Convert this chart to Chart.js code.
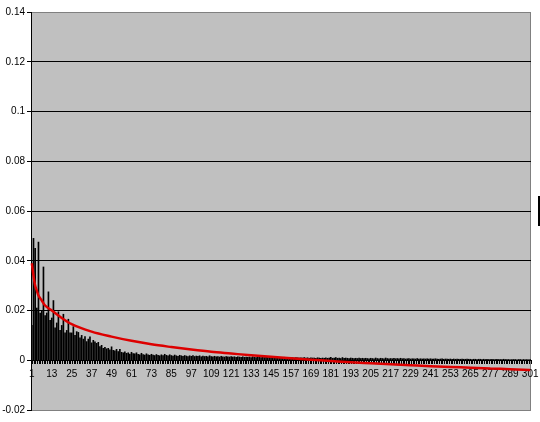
<!DOCTYPE html>
<html>
<head>
<meta charset="utf-8">
<script src="https://cdn.jsdelivr.net/npm/chart.js@4"></script>
<style>
  body { margin: 0; background: #fff; }
  #wrap { position: relative; width: 540px; height: 422px; }
  #legendEdge { position: absolute; left: 538px; top: 196px; width: 2px; height: 30px; background: #000; }
</style>
</head>
<body>
<div id="wrap">
  <canvas id="myChart" width="540" height="422"></canvas>
  <div id="legendEdge"></div>
</div>
<script>
// categories 1..301
const categories = Array.from({ length: 301 }, (_, i) => String(i + 1));

const xTickLabels = ['1', '13', '25', '37', '49', '61', '73', '85', '97', '109', '121', '133', '145',
  '157', '169', '181', '193', '205', '217', '229', '241', '253', '265', '277', '289', '301'];

const yTickValues = [0.14, 0.12, 0.1, 0.08, 0.06, 0.04, 0.02, 0, -0.02];

// bar heights
const barValues = [
  0.014, 0.049, 0.045, 0.021, 0.0475, 0.019, 0.020, 0.0375, 0.018, 0.019,
  0.0275, 0.016, 0.017, 0.024, 0.013, 0.015, 0.0195, 0.012, 0.014, 0.0185,
  0.011, 0.012, 0.0165, 0.011, 0.011, 0.0135, 0.010, 0.0115, 0.0112, 0.009,
  0.010, 0.0085, 0.0095, 0.0075, 0.0085, 0.0094, 0.007, 0.008, 0.0074, 0.0068,
  0.0072, 0.0055, 0.006, 0.0048, 0.0052, 0.0046, 0.0048, 0.0042, 0.0054, 0.004,
  0.0038, 0.0044, 0.0035, 0.0044, 0.0032, 0.003, 0.0034, 0.0028, 0.003, 0.0025,
  0.0032, 0.0027, 0.0026, 0.003, 0.0024, 0.0022, 0.0028, 0.0023, 0.0021, 0.0026,
  0.0022, 0.002, 0.0024, 0.0021, 0.0019, 0.0023, 0.002, 0.0018, 0.0022, 0.0019,
  0.0024, 0.002, 0.0018, 0.0022, 0.0019, 0.0017, 0.0021, 0.0018, 0.0016, 0.002,
  0.0018, 0.0016, 0.0019, 0.0017, 0.0015, 0.0018, 0.0016, 0.0019, 0.0015, 0.0017,
  0.0016, 0.0018, 0.0014, 0.0017, 0.0015, 0.0016, 0.0014, 0.0018, 0.0015, 0.0014,
  0.0016, 0.0014, 0.0015, 0.0013, 0.0016, 0.0014, 0.0013, 0.0015, 0.0014, 0.0013,
  0.0015, 0.0013, 0.0014, 0.0012, 0.0014, 0.0013, 0.0012, 0.0014, 0.0012, 0.0013,
  0.0012, 0.0013, 0.0011, 0.0014, 0.0012, 0.0011, 0.0013, 0.0012, 0.0011, 0.0012,
  0.0011, 0.0013, 0.0011, 0.0012, 0.001, 0.0012, 0.0011, 0.001, 0.0012, 0.001,
  0.0011, 0.001, 0.0012, 0.001, 0.0011, 0.0009, 0.0011, 0.001, 0.0009, 0.0011,
  0.001, 0.0009, 0.001, 0.0009, 0.0011, 0.0009, 0.001, 0.0008, 0.001, 0.0009,
  0.0009, 0.0008, 0.001, 0.0009, 0.0008, 0.0009, 0.0008, 0.001, 0.0008, 0.0009,
  0.0012, 0.0008, 0.0009, 0.0011, 0.0008, 0.0009, 0.0007, 0.0011, 0.0008, 0.0009,
  0.0008, 0.0007, 0.0009, 0.0008, 0.0007, 0.0008, 0.0007, 0.0009, 0.0007, 0.0008,
  0.0007, 0.0008, 0.0007, 0.0006, 0.0008, 0.0007, 0.0006, 0.0009, 0.0007, 0.0006,
  0.0008, 0.0007, 0.0006, 0.0009, 0.0007, 0.0006, 0.0007, 0.0006, 0.0008, 0.0006,
  0.0007, 0.0006, 0.0008, 0.0006, 0.0007, 0.0005, 0.0006, 0.0007, 0.0005, 0.0006,
  0.0006, 0.0005, 0.0007, 0.0005, 0.0006, 0.0005, 0.0006, 0.0005, 0.0006, 0.0005,
  0.0006, 0.0005, 0.0005, 0.0006, 0.0005, 0.0004, 0.0005, 0.0006, 0.0004, 0.0005,
  0.0005, 0.0004, 0.0005, 0.0004, 0.0005, 0.0004, 0.0005, 0.0004, 0.0004, 0.0005,
  0.0004, 0.0004, 0.0005, 0.0004, 0.0004, 0.0003, 0.0004, 0.0004, 0.0003, 0.0004,
  0.0004, 0.0003, 0.0004, 0.0003, 0.0004, 0.0003, 0.0003, 0.0004, 0.0003, 0.0003,
  0.0004, 0.0003, 0.0003, 0.0003, 0.0004, 0.0003, 0.0003, 0.0003, 0.0002, 0.0003,
  0.0003, 0.0003, 0.0002, 0.0003, 0.0003, 0.0002, 0.0003, 0.0002, 0.0003, 0.0002, 0.0003
];

// red trend line, read at a few categories
const trendCats = ['1', '2', '3', '4', '5', '7', '9', '13', '19', '25', '37', '49', '61', '73', '85', '97',
  '109', '121', '133', '145', '157', '169', '181', '193', '205', '217', '229', '241', '253', '265', '277', '289', '301'];
const trendValues = [0.039, 0.034, 0.030, 0.028, 0.026, 0.024, 0.022, 0.020, 0.017, 0.0145, 0.0115, 0.0095,
  0.0078, 0.0064, 0.0053, 0.0043, 0.0034, 0.0027, 0.0020, 0.0014, 0.0008, 0.0002, -0.0003, -0.0008,
  -0.0012, -0.0016, -0.0020, -0.0024, -0.0027, -0.0030, -0.0033, -0.0036, -0.0039];

const plotBg = {
  id: 'plotBg',
  beforeDraw(chart) {
    const { ctx, chartArea: a } = chart;
    ctx.save();
    ctx.fillStyle = '#c0c0c0';
    ctx.fillRect(a.left, a.top, a.right - a.left, a.bottom - a.top);
    ctx.strokeStyle = '#808080';
    ctx.lineWidth = 1;
    ctx.strokeRect(a.left + 0.5, a.top + 0.5, a.right - a.left - 1, a.bottom - a.top);
    ctx.restore();
  }
};

const ctx = document.getElementById('myChart');

new Chart(ctx, {
  type: 'bar',
  data: {
    labels: categories,
    datasets: [
      {
        type: 'line',
        data: trendCats.map((c, i) => ({ x: c, y: trendValues[i] })),
        borderColor: '#dd0000',
        borderWidth: 2.5,
        pointRadius: 0,
        cubicInterpolationMode: 'monotone',
        order: 0
      },
      {
        data: barValues,
        backgroundColor: '#000',
        barThickness: 1,
        order: 1
      }
    ]
  },
  options: {
    responsive: false,
    animation: false,
    layout: { padding: { top: 12, bottom: 12, right: 9, left: 0 } },
    plugins: { legend: { display: false }, tooltip: { enabled: false } },
    scales: {
      x: {
        position: { y: 0 },
        afterFit: (s) => { s.paddingLeft = 0; s.paddingRight = 0; },
        grid: { offset: true, drawOnChartArea: false, drawTicks: true, tickLength: 3, color: '#000' },
        border: { color: '#000' },
        ticks: {
          autoSkip: false,
          maxRotation: 0,
          padding: 5,
          color: '#000',
          font: { family: 'Liberation Sans', size: 10 },
          callback: function (v, i) {
            const l = categories[i];
            return xTickLabels.includes(l) ? l : '';
          }
        }
      },
      y: {
        min: -0.02,
        max: 0.14,
        afterFit: (s) => { s.width = 31; },
        afterBuildTicks: (s) => { s.ticks = yTickValues.map(v => ({ value: v })); },
        grid: {
          color: (c) => (c.tick && (c.tick.value === 0.14 || c.tick.value === -0.02)) ? '#808080' : '#000',
          tickColor: '#000',
          tickLength: 4
        },
        border: { color: '#000' },
        ticks: {
          padding: 2,
          color: '#000',
          font: { family: 'Liberation Sans', size: 10 },
          callback: (v) => String(Math.round(v * 100) / 100)
        }
      }
    }
  },
  plugins: [plotBg]
});
</script>
</body>
</html>
